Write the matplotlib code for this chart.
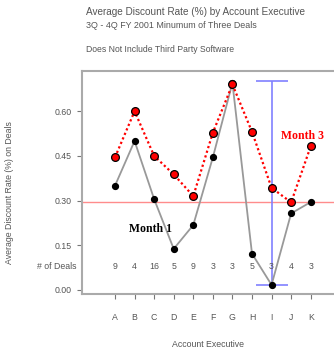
import numpy as np
import matplotlib
matplotlib.use("Agg")
import matplotlib.pyplot as plt

plt.rcParams['font.family'] = ['Liberation Sans', 'DejaVu Sans']

execs = ["A", "B", "C", "D", "E", "F", "G", "H", "I", "J", "K"]
month1 = [0.35, 0.50, 0.305, 0.138, 0.218, 0.445, 0.695, 0.122, 0.017, 0.257, 0.295]
month3 = [0.445, 0.60, 0.45, 0.388, 0.315, 0.528, 0.69, 0.531, 0.343, 0.294, 0.482]
deals = [9, 4, 16, 5, 9, 3, 3, 5, 3, 4, 3]
target = 0.295
range_exec = "I"
range_low = 0.017
range_high = 0.701

x = np.arange(1, len(execs) + 1)

fig = plt.figure(figsize=(3.34, 3.54), dpi=100)
ax = fig.add_axes([82/334, 60/354, 1 - 82/334, 223/354])

ax.axhline(target, color="#ff8c8c", lw=1, zorder=1)

xi = x[execs.index(range_exec)]
ax.vlines(xi, range_low, range_high, color="#8080ff", lw=1.2, zorder=2)
ax.hlines([range_low, range_high], xi - 0.82, xi + 0.82, color="#8080ff", lw=1.2, zorder=2)

ax.plot(x, month1, color="#999999", lw=1.3, marker="o", ms=4.2,
        mfc="black", mec="black", zorder=3)
ax.plot(x, month3, color="red", lw=1.6, ls=(0, (1, 1.2)), marker="o", ms=5.6,
        mfc="red", mec="black", mew=0.9, zorder=4)

ax.text(2.79, 0.205, "Month 1", family="Liberation Serif", weight="bold",
        fontsize=8.5, color="black", ha="center", va="center", zorder=5)
ax.text(10.6, 0.517, "Month 3", family="Liberation Serif", weight="bold",
        fontsize=8.5, color="red", ha="center", va="center", zorder=5)

for xx, d in zip(x, deals):
    ax.text(xx, 0.078, str(d), fontsize=6.3, color="#555555", ha="center", va="center")
ax.text(-0.95, 0.078, "# of Deals", fontsize=6.3, color="#555555",
        ha="right", va="center", clip_on=False)

ax.set_xlim(1 - 33/19.57, 11 + 23.3/19.57)
ax.set_ylim(-0.0135, 0.735)
ax.set_xticks(x)
ax.set_xticklabels(execs)
ax.set_yticks([0.0, 0.15, 0.30, 0.45, 0.60])
ax.set_yticklabels(["0.00", "0.15", "0.30", "0.45", "0.60"])

for s in ["left", "bottom", "top"]:
    ax.spines[s].set_color("#aaaaaa")
    ax.spines[s].set_linewidth(1.5)
ax.spines["right"].set_visible(False)
ax.tick_params(axis="both", direction="out", length=3.5, width=0.8, color="#777777",
               labelsize=6.3, labelcolor="#555555")
ax.tick_params(axis="x", pad=10)
ax.tick_params(axis="y", pad=4)

ax.set_xlabel("Account Executive", fontsize=6.3, color="#555555", labelpad=13)
ax.set_ylabel("Average Discount Rate (%) on Deals", fontsize=6.3, color="#555555")
ax.yaxis.set_label_coords(-0.27, 0.457)

fig.text(86/334, 1 - 12/354, "Average Discount Rate (%) by Account Executive",
         fontsize=7.2, color="#555555", ha="left", va="center")
fig.text(86/334, 1 - 25.5/354, "3Q - 4Q FY 2001 Minumum of Three Deals",
         fontsize=6.4, color="#555555", ha="left", va="center")
fig.text(86/334, 1 - 49.5/354, "Does Not Include Third Party Software",
         fontsize=6.2, color="#555555", ha="left", va="center")

fig.savefig("out.png", dpi=100)
